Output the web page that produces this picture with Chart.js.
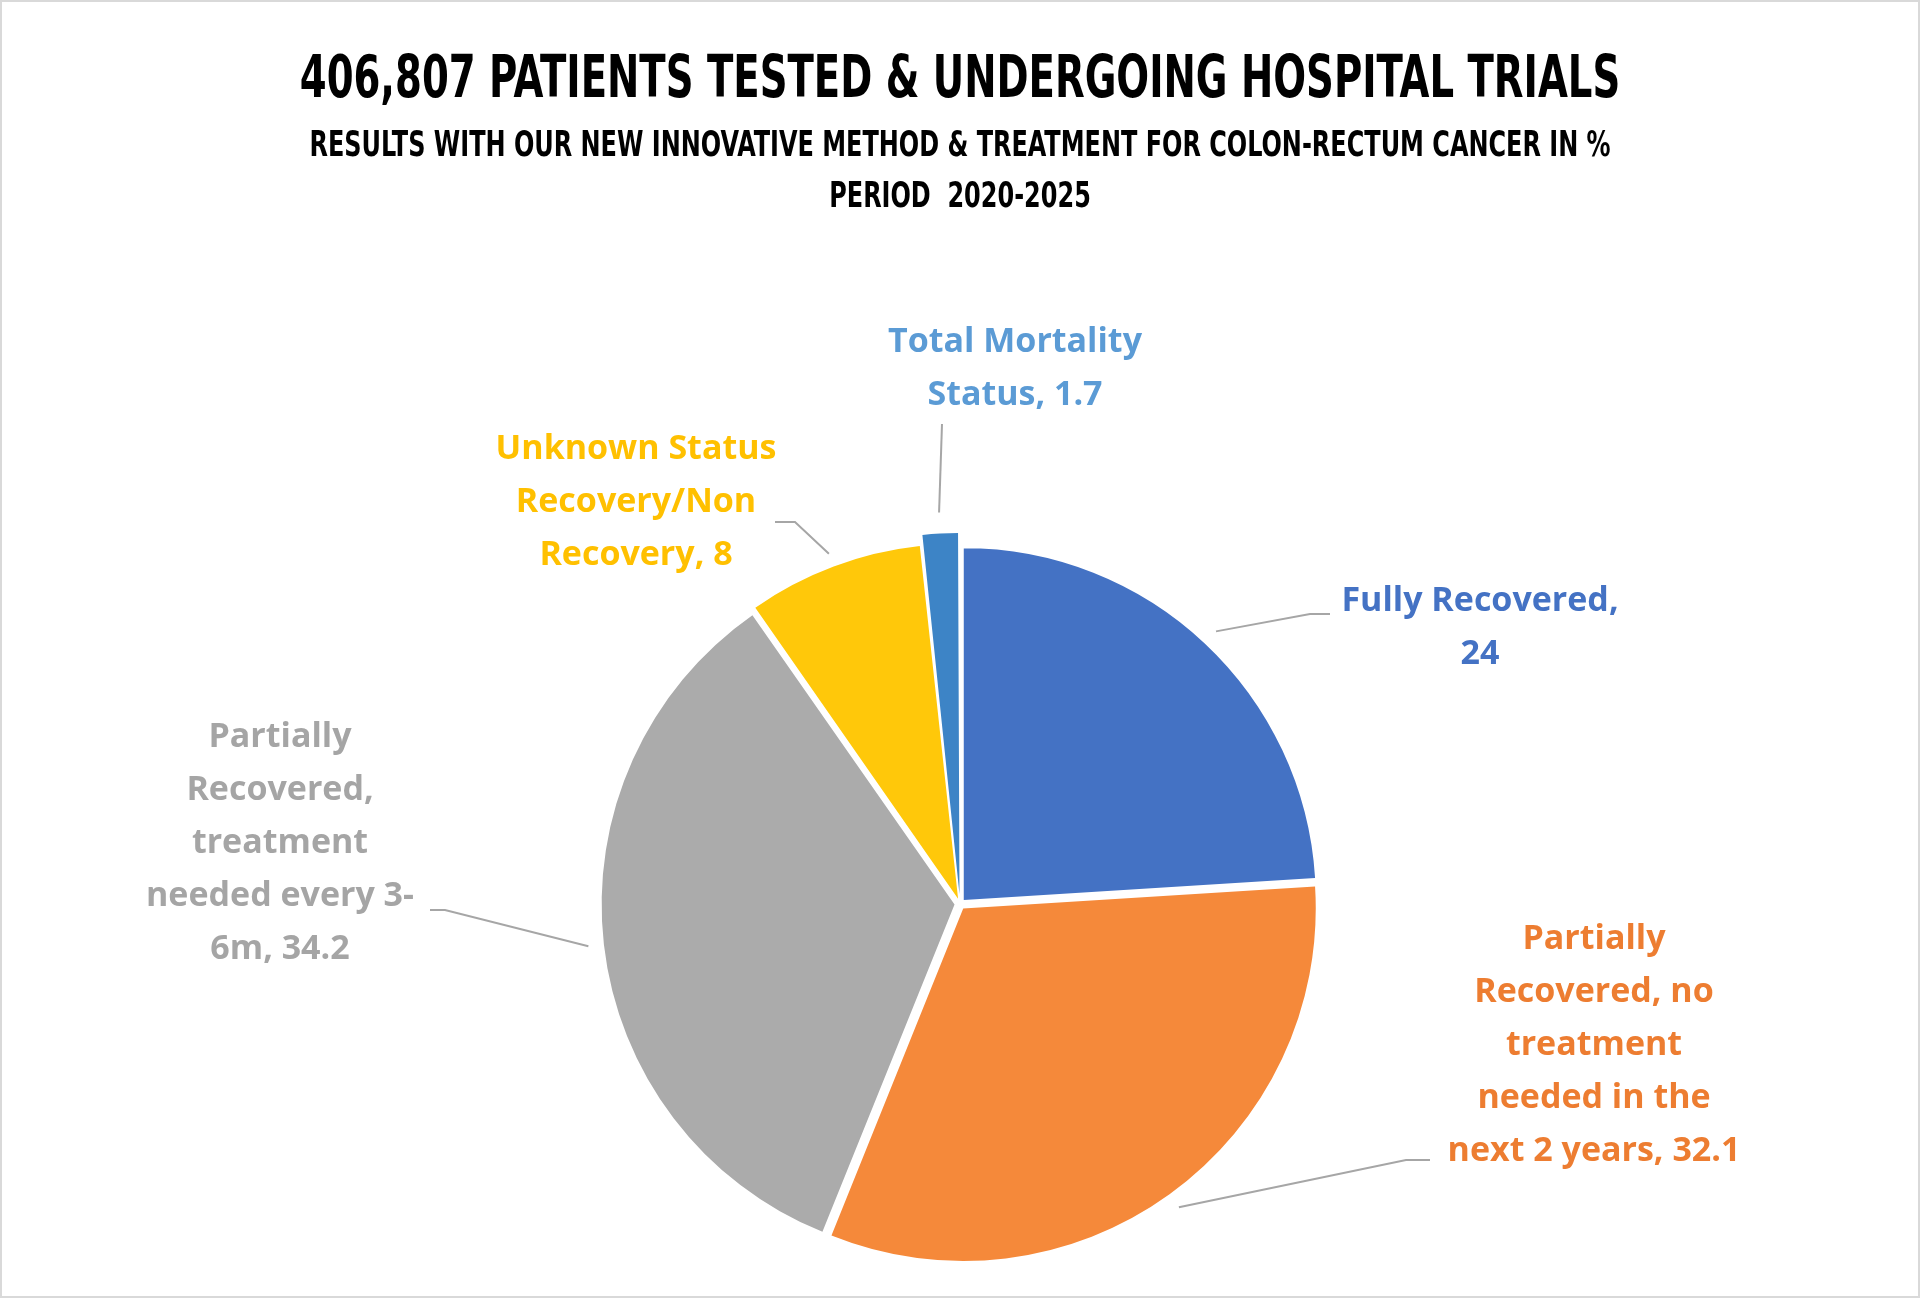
<!DOCTYPE html>
<html>
<head>
<meta charset="utf-8">
<script src="https://cdn.jsdelivr.net/npm/chart.js@4"></script>
<style>
  html, body { margin: 0; padding: 0; background: #fff; }
  #wrap { width: 1920px; height: 1298px; box-sizing: border-box; border: 2px solid #d9d9d9; }
</style>
</head>
<body>
<div id="wrap"><canvas id="pieChart" width="1916" height="1294"></canvas></div>
<script>
const categories = [
  ["Fully Recovered,", "24"],
  ["Partially", "Recovered, no", "treatment", "needed in the", "next 2 years, 32.1"],
  ["Partially", "Recovered,", "treatment", "needed every 3-", "6m, 34.2"],
  ["Unknown Status", "Recovery/Non", "Recovery, 8"],
  ["Total Mortality", "Status, 1.7"]
];
const values = [24, 32.1, 34.2, 8, 1.7];
const sliceColors = ["#4472C4", "#F5893A", "#ABABAB", "#FFC80A", "#3D84C6"];
const labelColors = ["#4472C4", "#ED7D31", "#A5A5A5", "#FFC000", "#5B9BD5"];
const titleLines = [
  "406,807 PATIENTS TESTED & UNDERGOING HOSPITAL TRIALS",
  "RESULTS WITH OUR NEW INNOVATIVE METHOD & TREATMENT FOR COLON-RECTUM CANCER IN %",
  "PERIOD  2020-2025"
];

// label placement relative to pie centre: [text dx, text dy, elbow dx, elbow dy, line end dx]
const labelPos = [
  [520, -276, 350, -290, 370],
  [634, 141, 446, 256, 470],
  [-680, -61, -515, 6, -530],
  [-324, -402, -165, -382, -185],
  [55, -535, -18, -480, -18]
];

const labelPlugin = {
  id: "pieLabels",
  afterDatasetsDraw(chart) {
    const ctx = chart.ctx;
    const meta = chart.getDatasetMeta(0);
    ctx.save();
    // titles, squeezed to look condensed
    ctx.fillStyle = "#000";
    ctx.textAlign = "center";
    ctx.textBaseline = "middle";
    const cx0 = chart.width / 2;
    ctx.save();
    ctx.translate(cx0, 0);
    ctx.scale(0.74, 1);
    ctx.font = "bold 58px 'DejaVu Sans Condensed', 'DejaVu Sans', sans-serif";
    ctx.fillText(titleLines[0], 0, 80);
    ctx.font = "bold 36px 'DejaVu Sans Condensed', 'DejaVu Sans', sans-serif";
    ctx.fillText(titleLines[1], 0, 145);
    ctx.fillText(titleLines[2], 0, 196);
    ctx.restore();

    meta.data.forEach((arc, i) => {
      const p = arc.getProps(["x", "y", "startAngle", "endAngle", "outerRadius"], true);
      const mid = (p.startAngle + p.endAngle) / 2;
      const off = chart.data.datasets[0].offset[i];
      const ax = p.x + Math.cos(mid) * (p.outerRadius + off);
      const ay = p.y + Math.sin(mid) * (p.outerRadius + off);
      const lp = labelPos[i];
      ctx.strokeStyle = "#A6A6A6";
      ctx.lineWidth = 2;
      ctx.beginPath();
      ctx.moveTo(ax, ay);
      ctx.lineTo(p.x + lp[2], p.y + lp[3]);
      if (i !== 4) ctx.lineTo(p.x + lp[4], p.y + lp[3]);
      ctx.stroke();

      const lines = categories[i];
      ctx.fillStyle = labelColors[i];
      ctx.font = "bold 34px 'Open Sans', 'Noto Sans', sans-serif";
      const lh = 53;
      const y0 = p.y + lp[1] - (lines.length - 1) * lh / 2;
      lines.forEach((t, k) => ctx.fillText(t, p.x + lp[0], y0 + k * lh));
    });
    ctx.restore();
  }
};

new Chart(document.getElementById("pieChart").getContext("2d"), {
  type: "pie",
  data: {
    labels: categories.map(c => c.join(" ")),
    datasets: [{
      data: values,
      backgroundColor: sliceColors,
      borderWidth: 0,
      offset: [22, 22, 22, 22, 40]
    }]
  },
  options: {
    responsive: false,
    animation: false,
    layout: { padding: { top: 530, bottom: 20, left: 200, right: 200 } },
    plugins: { legend: { display: false }, tooltip: { enabled: false }, title: { display: false } }
  },
  plugins: [labelPlugin]
});
</script>
</body>
</html>
